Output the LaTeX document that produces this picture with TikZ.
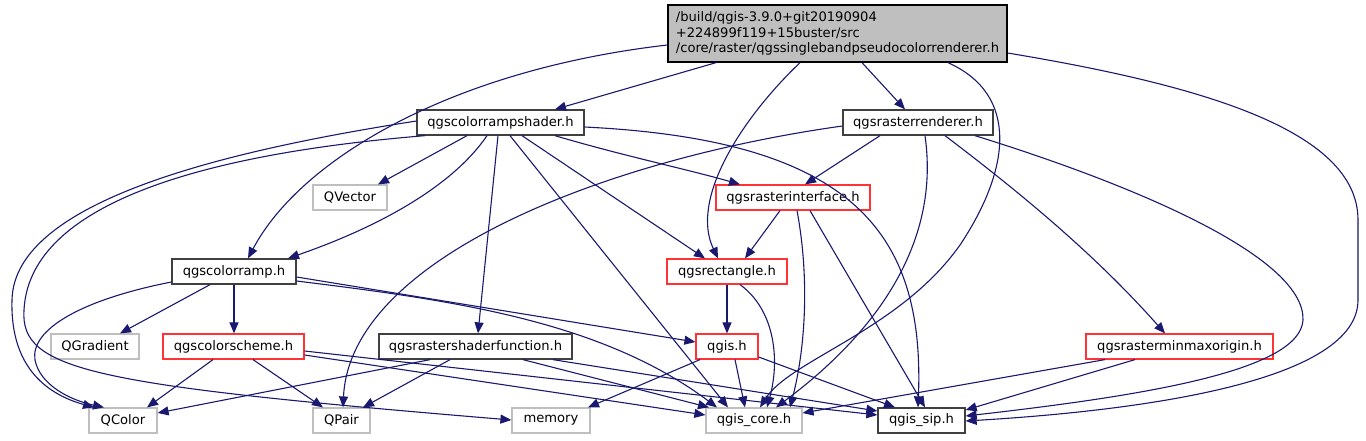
\documentclass[tikz,border=0pt]{standalone}
\usepackage{fontspec}
\setmainfont{DejaVu Sans}
\usetikzlibrary{arrows.meta}
\definecolor{depline}{HTML}{191970}
\definecolor{docframe}{HTML}{404040}
\definecolor{extframe}{HTML}{BFBFBF}
\definecolor{redframe}{HTML}{FF3333}
\begin{document}
\begin{tikzpicture}[x=1pt,y=-1pt,>={Triangle[length=11pt,width=9pt]},
    every node/.style={font=\fontsize{13.1pt}{15.5pt}\selectfont, inner sep=0pt, minimum height=25pt},
    file/.style={draw=docframe, line width=1.3pt, fill=white},
    redfile/.style={draw=redframe, line width=1.2pt, fill=white},
    extfile/.style={draw=extframe, line width=1.2pt, fill=white},
    dep/.style={->, draw=depline, line width=1.1pt}]
    \useasboundingbox (0,0) rectangle (1366,440);

    % files
    \node[draw=black, line width=1.3pt, fill=extframe, minimum width=339pt, minimum height=57pt, align=left] (root) at (837.5,33.5)
        {/build/qgis-3.9.0+git20190904\\+224899f119+15buster/src\\/core/raster/qgssinglebandpseudocolorrenderer.h};
    \node[file, minimum width=167pt] (shader) at (500.5,122.5) {qgscolorrampshader.h};
    \node[file, minimum width=150pt] (renderer) at (918,122.5) {qgsrasterrenderer.h};
    \node[extfile, minimum width=74pt] (qvector) at (350,197.5) {QVector};
    \node[redfile, minimum width=154pt] (iface) at (793,197.5) {qgsrasterinterface.h};
    \node[file, minimum width=124pt] (cramp) at (234,271.5) {qgscolorramp.h};
    \node[redfile, minimum width=120pt] (rect) at (727,271.5) {qgsrectangle.h};
    \node[extfile, minimum width=88pt] (qgradient) at (95,346.5) {QGradient};
    \node[redfile, minimum width=141pt] (cscheme) at (233.5,346.5) {qgscolorscheme.h};
    \node[file, minimum width=193pt] (shfunc) at (475.5,346.5) {qgsrastershaderfunction.h};
    \node[redfile, minimum width=62pt] (qgis) at (727,346.5) {qgis.h};
    \node[redfile, minimum width=187pt] (minmax) at (1179.5,346.5) {qgsrasterminmaxorigin.h};
    \node[extfile, minimum width=68pt] (qcolor) at (123,420.5) {QColor};
    \node[extfile, minimum width=57pt] (qpair) at (341.5,420.5) {QPair};
    \node[extfile, minimum width=78pt] (memory) at (551,420.5) {memory};
    \node[extfile, minimum width=96pt] (core) at (754,420.5) {qgis\_core.h};
    \node[file, minimum width=87pt] (sip) at (921.5,420.5) {qgis\_sip.h};

    % includes of the root file
    \draw[dep] (716,0 |- root.south) -- (555,0 |- shader.north);
    \draw[dep] (862,0 |- root.south) -- (905,0 |- renderer.north);
    \draw[dep] (root.west |- 0,45) .. controls (450,70) and (300,160) .. (248,0 |- cramp.north);
    \draw[dep] (800,0 |- root.south) .. controls (740,120) and (690,200) .. (718,0 |- rect.north);
    \draw[dep] (948,0 |- root.south) .. controls (1020,95) and (1010,170) .. (960,245) .. controls (900,330) and (790,360) .. (760,0 |- core.north);
    \draw[dep] (root.east |- 0,53) .. controls (1200,85) and (1358,130) .. (1358,220) -- (1358,300) .. controls (1358,380) and (1150,410) .. (sip.east |- 0,421);

    % qgscolorrampshader.h
    \draw[dep] (shader.west |- 0,121) .. controls (230,150) and (14,200) .. (12,300) .. controls (10,370) and (50,395) .. (94,0 |- qcolor.north);
    \draw[dep] (425,0 |- shader.south) .. controls (250,150) and (30,190) .. (24,310) .. controls (20,370) and (90,385) .. (memory.west |- 0,420);
    \draw[dep] (467,0 |- shader.south) -- (378,0 |- qvector.north);
    \draw[dep] (487,0 |- shader.south) .. controls (450,190) and (370,230) .. (288,0 |- cramp.north);
    \draw[dep] (498,0 |- shader.south) -- (478,0 |- shfunc.north);
    \draw[dep] (510,0 |- shader.south) -- (728,0 |- core.north);
    \draw[dep] (522,0 |- shader.south) -- (705,0 |- rect.north);
    \draw[dep] (555,0 |- shader.south) .. controls (620,155) and (690,170) .. (740,0 |- iface.north);
    \draw[dep] (shader.east |- 0,127) .. controls (850,140) and (925,230) .. (918,0 |- sip.north);

    % qgsrasterrenderer.h
    \draw[dep] (renderer.west |- 0,126) .. controls (600,160) and (350,260) .. (343,0 |- qpair.north);
    \draw[dep] (880,0 |- renderer.south) -- (805,0 |- iface.north);
    \draw[dep] (925,0 |- renderer.south) .. controls (940,240) and (880,330) .. (776,0 |- core.north);
    \draw[dep] (945,0 |- renderer.south) .. controls (1030,200) and (1100,260) .. (1165,0 |- minmax.north);
    \draw[dep] (975,0 |- renderer.south) .. controls (1150,190) and (1305,260) .. (1303,320) .. controls (1300,370) and (1150,395) .. (sip.east |- 0,416);

    % qgsrasterinterface.h
    \draw[dep] (780,0 |- iface.south) -- (745,0 |- rect.north);
    \draw[dep] (797,0 |- iface.south) .. controls (810,280) and (805,350) .. (790,0 |- core.north);
    \draw[dep] (810,0 |- iface.south) -- (925,0 |- sip.north);

    % qgscolorramp.h
    \draw[dep] (cramp.west |- 0,282) .. controls (80,300) and (30,330) .. (35,360) .. controls (40,385) and (70,400) .. (104,0 |- qcolor.north);
    \draw[dep] (210,0 |- cramp.south) -- (120,0 |- qgradient.north);
    \draw[dep] (cramp.south) -- (cramp.south |- cscheme.north);
    \draw[dep] (cramp.east |- 0,277) -- (qgis.west |- 0,342);
    \draw[dep] (cramp.east |- 0,281) .. controls (450,300) and (600,320) .. (717,0 |- core.north);

    % qgscolorscheme.h
    \draw[dep] (213,0 |- cscheme.south) -- (147,0 |- qcolor.north);
    \draw[dep] (253,0 |- cscheme.south) -- (323,0 |- qpair.north);
    \draw[dep] (cscheme.east |- 0,355) -- (core.west |- 0,415);
    \draw[dep] (cscheme.east |- 0,351) -- (sip.west |- 0,415);

    % qgsrastershaderfunction.h
    \draw[dep] (430,0 |- shfunc.south) -- (qcolor.east |- 0,413);
    \draw[dep] (450,0 |- shfunc.south) -- (363,0 |- qpair.north);
    \draw[dep] (523,0 |- shfunc.south) -- (709,0 |- core.north);
    \draw[dep] (553,0 |- shfunc.south) -- (sip.west |- 0,411);

    % qgis.h
    \draw[dep] (700,0 |- qgis.south) -- (588,0 |- memory.north);
    \draw[dep] (735,0 |- qgis.south) -- (745,0 |- core.north);
    \draw[dep] (qgis.east |- 0,357) -- (895,0 |- sip.north);

    % qgsrectangle.h
    \draw[dep] (rect.south) -- (rect.south |- qgis.north);
    \draw[dep] (740,0 |- rect.south) .. controls (775,310) and (780,360) .. (767,0 |- core.north);

    % qgsrasterminmaxorigin.h
    \draw[dep] (1105,0 |- minmax.south) -- (core.east |- 0,413);
    \draw[dep] (1135,0 |- minmax.south) -- (sip.east |- 0,410);
\end{tikzpicture}
\end{document}
